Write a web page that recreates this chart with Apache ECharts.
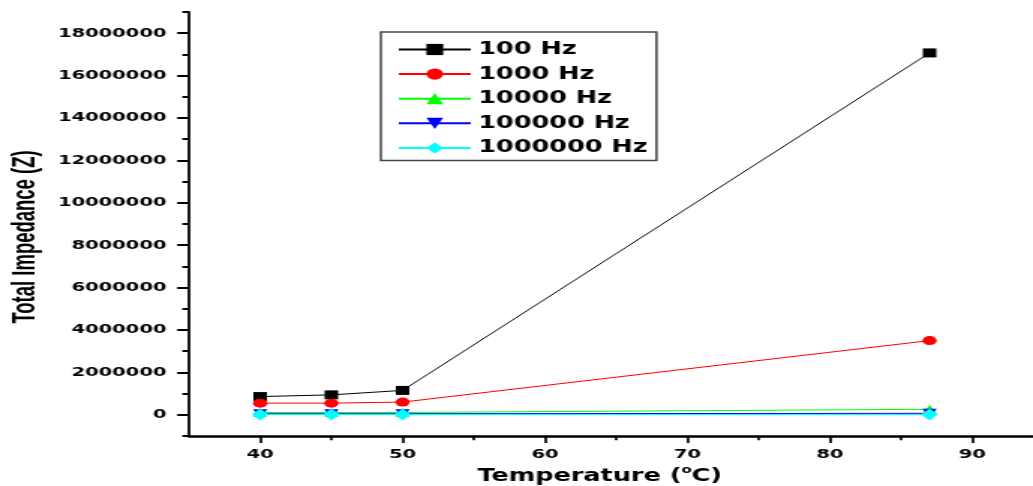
<!DOCTYPE html>
<html>
<head>
<meta charset="utf-8">
<script src="https://cdn.jsdelivr.net/npm/echarts@6/dist/echarts.min.js"></script>
<style>
  html, body { margin: 0; padding: 0; background: #fff; overflow: hidden; }
  #wrap { width: 1033px; height: 486px; overflow: hidden; }
  #chart { width: 689px; height: 486px; transform: scaleX(1.4993); transform-origin: 0 0; }
</style>
</head>
<body>
<div id="wrap"><div id="chart"></div></div>
<script>
// ---- data ----
const temperatures = [40, 45, 50, 87];
const seriesNames = ['100 Hz', '1000 Hz', '10000 Hz', '100000 Hz', '1000000 Hz'];
const z100Hz     = [860000, 940000, 1150000, 17070000];
const z1000Hz    = [550000, 550000, 600000, 3500000];
const z10000Hz   = [110000, 110000, 110000, 260000];
const z100000Hz  = [50000, 50000, 50000, 70000];
const z1000000Hz = [10000, 10000, 10000, 10000];
const xMajorTicks = [40, 50, 60, 70, 80, 90];
const xMinorTicks = [45, 55, 65, 75, 85];
const yMajorTicks = [0, 2000000, 4000000, 6000000, 8000000, 10000000, 12000000, 14000000, 16000000, 18000000];
const yMinorTicks = [-1000000, 1000000, 3000000, 5000000, 7000000, 9000000, 11000000, 13000000, 15000000, 17000000, 19000000];
const xTitle = 'Temperature ({sup|o}C)';
const yTitle = 'Total Impedance (Z)';

const seriesValues = [z100Hz, z1000Hz, z10000Hz, z100000Hz, z1000000Hz];
const colors = ['#000000', '#ff0000', '#00ff00', '#0000ff', '#00ffff'];
const symbols = ['rect', 'circle', 'triangle', 'triangle', 'diamond'];
const rotates = [0, 0, 0, 180, 0];
const sizes = [[9, 9], [9.5, 9], [9.5, 9], [9.5, 9], [11, 12]];

const labelFont = 'DejaVu Sans, Verdana, sans-serif';

const chart = echarts.init(document.getElementById('chart'), null, { renderer: 'canvas' });

const series = seriesNames.map((name, i) => ({
  name: name,
  type: 'line',
  xAxisIndex: 0,
  yAxisIndex: 0,
  data: temperatures.map((t, j) => [t, seriesValues[i][j]]),
  symbol: symbols[i],
  symbolRotate: rotates[i],
  symbolSize: sizes[i],
  showAllSymbol: true,
  color: colors[i],
  itemStyle: { color: colors[i] },
  lineStyle: { color: colors[i], width: 1 },
  emphasis: { disabled: true },
  clip: false
}));

chart.setOption({
  animation: false,
  backgroundColor: '#ffffff',
  grid: { left: 126, right: -7, top: 12, bottom: 50, containLabel: false, outerBoundsMode: 'none' },
  legend: {
    data: seriesNames,
    orient: 'vertical',
    left: 254,
    top: 32,
    itemWidth: 48,
    itemHeight: 14,
    itemGap: 7.6,
    padding: [9, 6, 4, 11],
    borderColor: '#444',
    borderWidth: 1.5,
    textStyle: { fontFamily: labelFont, fontWeight: 'bold', fontSize: 17, color: '#000' }
  },
  graphic: [
    {
      type: 'text',
      x: 17,
      y: 237,
      rotation: Math.PI / 2,
      scaleX: 0.84,
      silent: true,
      style: {
        text: yTitle,
        fontFamily: 'Liberation Sans, Arial, sans-serif',
        fontWeight: 'bold',
        fontSize: 22,
        fill: '#000',
        textAlign: 'center',
        textVerticalAlign: 'middle'
      }
    }
  ],
  xAxis: [
    {
      type: 'value', min: 35, max: 95,
      position: 'bottom',
      name: xTitle,
      nameLocation: 'middle',
      nameGap: 27,
      nameTextStyle: {
        fontFamily: labelFont, fontWeight: 'bold', fontSize: 17, color: '#000',
        padding: [0, 22, 0, 0],
        rich: { sup: { fontFamily: labelFont, fontWeight: 'bold', fontSize: 10, color: '#000', padding: [0, 0, 11, 0] } }
      },
      axisLine: { show: true, onZero: false, lineStyle: { color: '#000', width: 2.5 } },
      axisTick: { show: true, customValues: xMajorTicks, length: 7, lineStyle: { color: '#000', width: 1.7 } },
      axisLabel: { show: true, customValues: xMajorTicks, margin: 12, fontFamily: labelFont, fontWeight: 'bold', fontSize: 13, color: '#000' },
      splitLine: { show: false }
    },
    {
      type: 'value', min: 35, max: 95,
      position: 'bottom',
      axisLine: { show: false, onZero: false },
      axisTick: { show: true, customValues: xMinorTicks, length: 4.3, lineStyle: { color: '#000', width: 1.7 } },
      axisLabel: { show: false },
      splitLine: { show: false }
    }
  ],
  yAxis: [
    {
      type: 'value', min: -1000000, max: 19000000,
      position: 'left',
      axisLine: { show: true, onZero: false, lineStyle: { color: '#000', width: 1.8 } },
      axisTick: { show: true, customValues: yMajorTicks, length: 7.8, lineStyle: { color: '#000', width: 2 } },
      axisLabel: {
        show: true, customValues: yMajorTicks, margin: 15,
        formatter: v => String(Math.round(v)),
        fontFamily: labelFont, fontWeight: 'bold', fontSize: 13, color: '#000'
      },
      splitLine: { show: false }
    },
    {
      type: 'value', min: -1000000, max: 19000000,
      position: 'left',
      axisLine: { show: false, onZero: false },
      axisTick: { show: true, customValues: yMinorTicks, length: 4.4, lineStyle: { color: '#000', width: 2 } },
      axisLabel: { show: false },
      splitLine: { show: false }
    }
  ],
  series: series
});
</script>
</body>
</html>
